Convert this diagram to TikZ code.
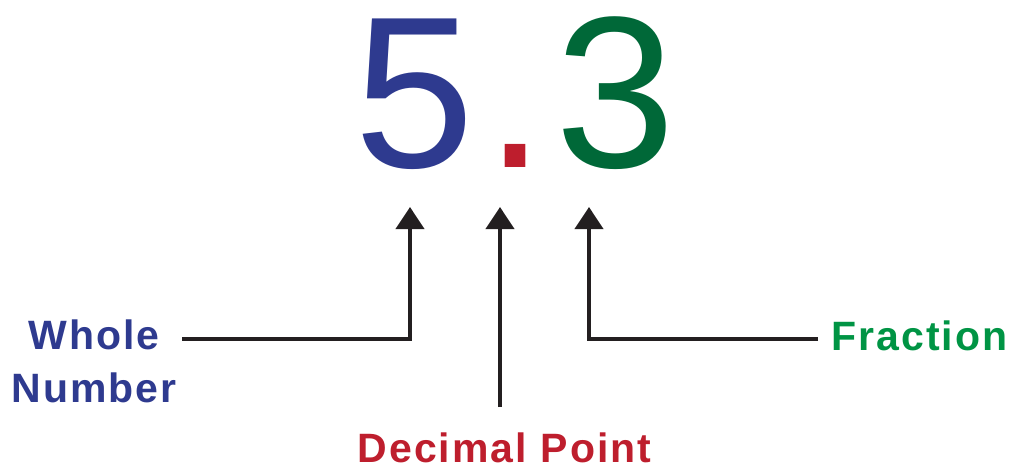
\documentclass[tikz,border=0pt]{standalone}
\usepackage{fontspec}
\setmainfont{Liberation Sans}
\newfontfamily\labfont[LetterSpace=5]{Liberation Sans}
\usetikzlibrary{arrows.meta}
\definecolor{wblue}{RGB}{46,58,143}
\definecolor{dred}{RGB}{190,30,45}
\definecolor{fgreen}{RGB}{0,104,56}
\definecolor{lgreen}{RGB}{0,148,68}
\definecolor{arrblack}{RGB}{35,31,32}
\tikzset{
  digit/.style={inner sep=0pt, anchor=base, font=\fontsize{216}{216}\selectfont},
  lab/.style={inner sep=0pt, font=\labfont\bfseries\fontsize{41}{53}\selectfont, align=center},
  arr/.style={draw=arrblack, line width=4pt, -{Triangle[width=28pt,length=22pt]}}
}
\begin{document}
\begin{tikzpicture}[x=1pt,y=-1pt]
\useasboundingbox (0,0) rectangle (1013,466);
\node[digit, text=wblue] (five) at (414.5,167) {5};
\node[digit, text=dred] (dot) at (515.5,167) {.};
\node[digit, text=fgreen] (three) at (615.5,167) {3};
\node[lab, text=wblue] (whole) at (94,361.5) {Whole\\Number};
\node[lab, text=dred, anchor=base] (decimal) at (504.5,462) {Decimal Point};
\node[lab, text=lgreen, anchor=base] (fraction) at (919.5,350) {Fraction};
\coordinate (t1) at (410,207);
\coordinate (t2) at (500,207);
\coordinate (t3) at (589,207);
\coordinate (w1) at (182,339);
\coordinate (f1) at (818,339);
\coordinate (d1) at (500,407);
\draw[arr] (w1) -| (t1);
\draw[arr] (d1) -- (t2);
\draw[arr] (f1) -| (t3);
\end{tikzpicture}
\end{document}
